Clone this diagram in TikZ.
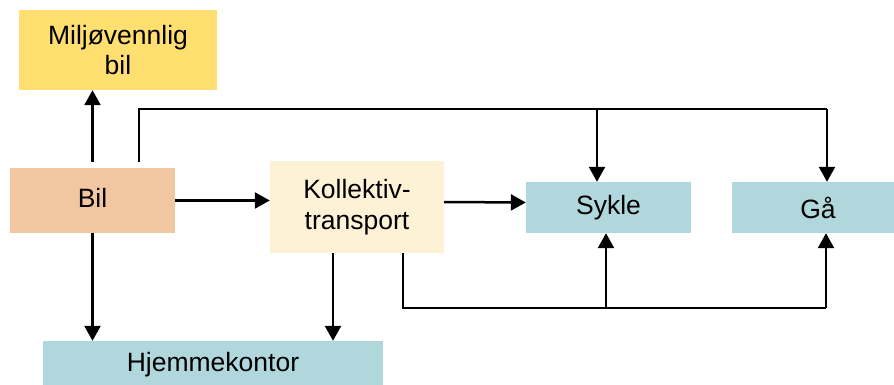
\documentclass[tikz,border=0pt]{standalone}
\usepackage{fontspec}
\setmainfont{Liberation Sans}
\usetikzlibrary{arrows.meta}
\definecolor{cyellow}{HTML}{FFDF6F}
\definecolor{cpeach}{HTML}{F2C6A0}
\definecolor{ccream}{HTML}{FDF2D5}
\definecolor{cteal}{HTML}{B0D8DC}
\tikzset{
  box/.style={rectangle, draw=none, inner sep=0pt, align=center,
    font=\fontsize{26.5}{30.5}\selectfont},
  arr/.style={line width=2.5pt, -{Triangle[length=15pt,width=16pt]}},
  plain/.style={line width=1.5pt}
}
\begin{document}
\begin{tikzpicture}[x=1pt,y=-1pt]
\useasboundingbox (0,0) rectangle (894,385);
\node[box, fill=cyellow, minimum width=198pt, minimum height=80pt] (milj) at (118,50) {Miljøvennlig\\bil};
\node[box, fill=cpeach, minimum width=165pt, minimum height=65pt] (bil) at (92.5,200.5) {\raisebox{6pt}{Bil}};
\node[box, fill=ccream, minimum width=174pt, minimum height=92pt] (koll) at (357,207) {Kollektiv-\\transport};
\node[box, fill=cteal, minimum width=165pt, minimum height=51pt] (sykle) at (608.5,207.5) {Sykle};
\node[box, fill=cteal, minimum width=172pt, minimum height=51pt] (ga) at (818,207.5) {Gå};
\node[box, fill=cteal, minimum width=340pt, minimum height=48pt] (hjem) at (213,365) {Hjemmekontor};
% top feedback line
\coordinate (tl) at (139,109);
\coordinate (tr) at (827,109);
\coordinate (ts) at (597,109);
\draw[arr] ([yshift=6pt]bil.north) -- (bil.north |- milj.south);
\draw[plain] ([xshift=46.5pt,yshift=6pt]bil.north) -- (tl) -- (tr);
\draw[arr] (ts) -- (ts |- sykle.north);
\draw[arr] (tr) -- (tr |- ga.north);
% horizontal flow
\draw[arr] (bil.east) -- (bil.east -| koll.west);
\draw[arr] ([yshift=5pt]koll.east) -- ([yshift=5pt]sykle.west);
% downward
\draw[arr] (bil.south) -- (bil.south |- hjem.north);
\draw[arr] ([xshift=-24pt]koll.south) -- ([xshift=-24pt]koll.south |- hjem.north);
% bottom feedback line
\coordinate (bl) at (403,308);
\coordinate (bs) at (606,308);
\coordinate (br) at (826,308);
\draw[plain] ([xshift=46pt]koll.south) -- (bl) -- (br);
\draw[arr] (bs) -- (bs |- sykle.south);
\draw[arr] (br) -- (br |- ga.south);
\end{tikzpicture}
\end{document}
